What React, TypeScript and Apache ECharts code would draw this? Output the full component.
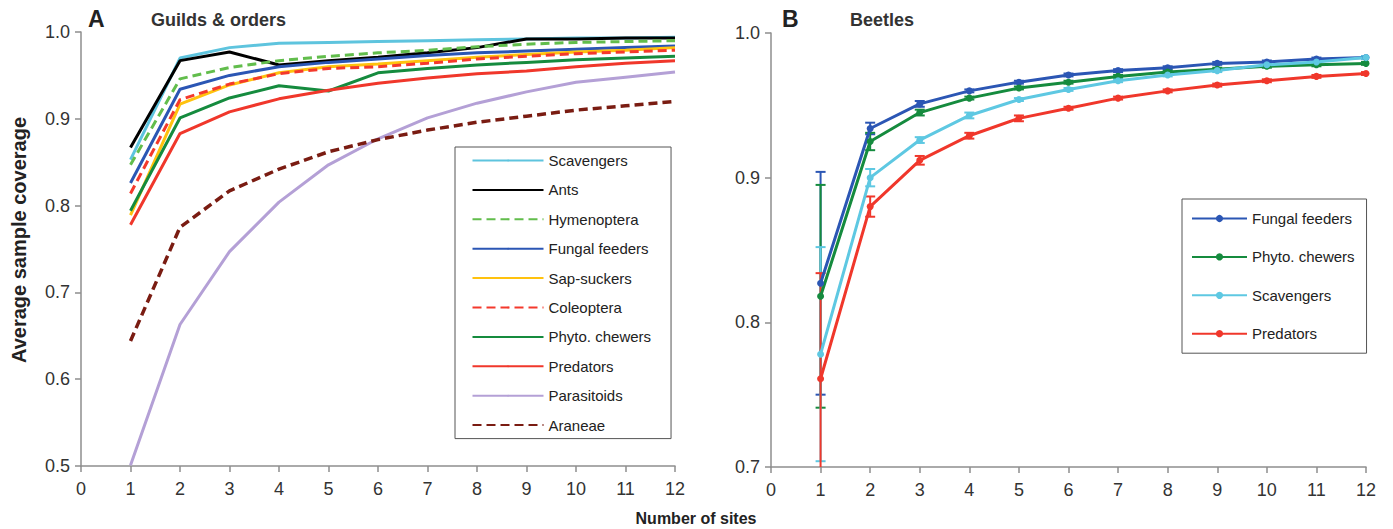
import React, { useEffect, useRef } from 'react';
import * as echarts from 'echarts';

const FONT = '"Liberation Sans", Arial, Helvetica, sans-serif';

// x values (number of sites)
const sites = [1, 2, 3, 4, 5, 6, 7, 8, 9, 10, 11, 12];

// Panel A: Guilds & orders
const scavengersA = [0.853, 0.970, 0.982, 0.987, 0.988, 0.989, 0.990, 0.991, 0.992, 0.993, 0.993, 0.994];
const antsA = [0.867, 0.967, 0.977, 0.962, 0.967, 0.971, 0.976, 0.982, 0.992, 0.992, 0.993, 0.993];
const hymenopteraA = [0.847, 0.946, 0.959, 0.967, 0.972, 0.976, 0.979, 0.983, 0.986, 0.988, 0.989, 0.990];
const fungalA = [0.826, 0.934, 0.950, 0.960, 0.965, 0.969, 0.973, 0.976, 0.978, 0.980, 0.982, 0.984];
const sapSuckersA = [0.789, 0.917, 0.939, 0.953, 0.960, 0.963, 0.967, 0.971, 0.974, 0.977, 0.979, 0.982];
const coleopteraA = [0.814, 0.922, 0.940, 0.952, 0.958, 0.960, 0.964, 0.969, 0.972, 0.975, 0.977, 0.979];
const phytoA = [0.794, 0.901, 0.924, 0.938, 0.932, 0.953, 0.958, 0.962, 0.965, 0.968, 0.970, 0.972];
const predatorsA = [0.778, 0.883, 0.908, 0.923, 0.933, 0.941, 0.947, 0.952, 0.955, 0.960, 0.964, 0.967];
const parasitoidsA = [0.501, 0.663, 0.747, 0.804, 0.847, 0.877, 0.901, 0.918, 0.931, 0.942, 0.948, 0.954];
const araneaeA = [0.644, 0.775, 0.817, 0.842, 0.862, 0.876, 0.887, 0.896, 0.903, 0.910, 0.915, 0.920];

// Panel B: Beetles (means and error half-widths)
const fungalB = [0.827, 0.934, 0.951, 0.960, 0.966, 0.971, 0.974, 0.976, 0.979, 0.980, 0.982, 0.983];
const phytoB = [0.818, 0.925, 0.945, 0.955, 0.962, 0.966, 0.970, 0.973, 0.975, 0.977, 0.978, 0.979];
const scavengersB = [0.778, 0.900, 0.926, 0.943, 0.954, 0.961, 0.967, 0.971, 0.974, 0.978, 0.980, 0.983];
const predatorsB = [0.761, 0.880, 0.912, 0.929, 0.941, 0.948, 0.955, 0.960, 0.964, 0.967, 0.970, 0.972];
const fungalErrB = [0.077, 0.004, 0.002, 0.001, 0.001, 0.001, 0.001, 0.001, 0.001, 0.001, 0.001, 0.001];
const phytoErrB = [0.077, 0.006, 0.002, 0.001, 0.001, 0.001, 0.001, 0.001, 0.001, 0.001, 0.001, 0.001];
const scavengersErrB = [0.074, 0.006, 0.002, 0.002, 0.001, 0.001, 0.001, 0.001, 0.001, 0.001, 0.001, 0.001];
const predatorsErrB = [0.073, 0.007, 0.003, 0.002, 0.002, 0.001, 0.001, 0.001, 0.001, 0.001, 0.001, 0.001];

const seriesA = [
  { name: 'Scavengers', data: scavengersA, color: '#5ec4de', type: 'solid', width: 3 },
  { name: 'Ants', data: antsA, color: '#000000', type: 'solid', width: 3 },
  { name: 'Hymenoptera', data: hymenopteraA, color: '#62bd4c', type: [9, 5], width: 3 },
  { name: 'Fungal feeders', data: fungalA, color: '#2b56b4', type: 'solid', width: 3 },
  { name: 'Sap-suckers', data: sapSuckersA, color: '#ffc20e', type: 'solid', width: 3 },
  { name: 'Coleoptera', data: coleopteraA, color: '#f4392c', type: [9, 5], width: 3 },
  { name: 'Phyto. chewers', data: phytoA, color: '#158b3e', type: 'solid', width: 3 },
  { name: 'Predators', data: predatorsA, color: '#f0372b', type: 'solid', width: 3 },
  { name: 'Parasitoids', data: parasitoidsA, color: '#b4a0d6', type: 'solid', width: 3 },
  { name: 'Araneae', data: araneaeA, color: '#7a1c12', type: [9, 5], width: 3.5 },
];

const seriesB = [
  { name: 'B Fungal feeders', data: fungalB, err: fungalErrB, color: '#2b56b4' },
  { name: 'B Phyto. chewers', data: phytoB, err: phytoErrB, color: '#158b3e' },
  { name: 'B Scavengers', data: scavengersB, err: scavengersErrB, color: '#5ec8e2' },
  { name: 'B Predators', data: predatorsB, err: predatorsErrB, color: '#f0372b' },
];

const axisColor = '#8e8e8e';

function makeX(gridIndex: number) {
  return {
    gridIndex,
    type: 'value',
    min: 0,
    max: 12,
    interval: 1,
    axisLine: { show: true, onZero: false, lineStyle: { color: axisColor, width: 1.5 } },
    axisTick: { show: true, length: 6, lineStyle: { color: axisColor, width: 1.5 } },
    axisLabel: { color: '#333', fontSize: 18, fontFamily: FONT, margin: 14 },
    splitLine: { show: false },
  };
}

function makeY(gridIndex: number, min: number) {
  return {
    gridIndex,
    type: 'value',
    min,
    max: 1.0,
    interval: 0.1,
    axisLine: { show: true, onZero: false, lineStyle: { color: axisColor, width: 1.5 } },
    axisTick: { show: true, length: 6, lineStyle: { color: axisColor, width: 1.5 } },
    axisLabel: {
      color: '#333',
      fontSize: 18,
      fontFamily: FONT,
      margin: 11,
      formatter: (v: number) => v.toFixed(1),
    },
    splitLine: { show: false },
  };
}

export default function App() {
  const ref = useRef<HTMLDivElement>(null);

  useEffect(() => {
    if (!ref.current) return;
    const chart = echarts.init(ref.current, undefined, { renderer: 'svg' });

    const lineSeriesA = seriesA.map((s) => ({
      name: s.name,
      type: 'line',
      xAxisIndex: 0,
      yAxisIndex: 0,
      data: sites.map((x, i) => [x, s.data[i]]),
      symbol: 'circle',
      symbolSize: 0,
      showSymbol: false,
      itemStyle: { color: s.color },
      lineStyle: { color: s.color, width: s.width, type: s.type as any },
      z: 3,
      silent: true,
    }));

    const errSeriesB = seriesB.map((s) => ({
      name: 'err ' + s.name,
      type: 'custom',
      xAxisIndex: 1,
      yAxisIndex: 1,
      clip: true,
      z: 2,
      silent: true,
      data: sites.map((x, i) => [x, s.data[i] - s.err[i], s.data[i] + s.err[i]]),
      encode: { x: 0, y: [1, 2] },
      renderItem: (params: any, api: any) => {
        const x = api.value(0);
        const lo = api.value(1);
        const hi = api.value(2);
        const top = api.coord([x, hi]);
        const bot = api.coord([x, lo]);
        const w = 5;
        const style = { stroke: s.color, lineWidth: 2 };
        return {
          type: 'group',
          children: [
            { type: 'line', shape: { x1: top[0], y1: top[1], x2: bot[0], y2: bot[1] }, style },
            { type: 'line', shape: { x1: top[0] - w, y1: top[1], x2: top[0] + w, y2: top[1] }, style },
            { type: 'line', shape: { x1: bot[0] - w, y1: bot[1], x2: bot[0] + w, y2: bot[1] }, style },
          ],
        };
      },
    }));

    const lineSeriesB = seriesB.map((s) => ({
      name: s.name,
      type: 'line',
      xAxisIndex: 1,
      yAxisIndex: 1,
      data: sites.map((x, i) => [x, s.data[i]]),
      symbol: 'circle',
      symbolSize: 7,
      showSymbol: true,
      itemStyle: { color: s.color },
      lineStyle: { color: s.color, width: 3 },
      z: 3,
      silent: true,
    }));

    chart.setOption({
      animation: false,
      backgroundColor: '#ffffff',
      grid: [
        { left: 81, top: 32, width: 594, height: 434 },
        { left: 771, top: 33, width: 595, height: 434 },
      ],
      xAxis: [makeX(0), makeX(1)],
      yAxis: [makeY(0, 0.5), makeY(1, 0.7)],
      legend: [
        {
          orient: 'vertical',
          left: 455,
          top: 147,
          itemWidth: 71,
          itemHeight: 2,
          itemGap: 14.4,
          padding: [6, 20, 6, 16.5],
          borderColor: '#555',
          borderWidth: 1,
          selectedMode: false,
          textStyle: { fontSize: 15, color: '#222', fontFamily: FONT },
          data: seriesA.map((s) => s.name),
        },
        {
          orient: 'vertical',
          left: 1182,
          top: 199,
          itemWidth: 55,
          itemHeight: 9,
          itemGap: 23.4,
          padding: [12, 12, 12, 9],
          borderColor: '#555',
          borderWidth: 1,
          selectedMode: false,
          textStyle: { fontSize: 15, color: '#222', fontFamily: FONT },
          formatter: (n: string) => n.replace(/^B /, ''),
          data: seriesB.map((s) => s.name),
        },
      ],
      graphic: [
        { type: 'text', x: 88, y: 19, style: { text: 'A', font: `bold 23px ${FONT}`, fill: '#222', textVerticalAlign: 'middle' } },
        { type: 'text', x: 151, y: 20, style: { text: 'Guilds & orders', font: `bold 18px ${FONT}`, fill: '#333', textVerticalAlign: 'middle' } },
        { type: 'text', x: 782, y: 19, style: { text: 'B', font: `bold 23px ${FONT}`, fill: '#222', textVerticalAlign: 'middle' } },
        { type: 'text', x: 850, y: 20, style: { text: 'Beetles', font: `bold 18px ${FONT}`, fill: '#333', textVerticalAlign: 'middle' } },
        {
          type: 'text',
          x: 19,
          y: 240,
          rotation: Math.PI / 2,
          style: { text: 'Average sample coverage', font: `bold 20px ${FONT}`, fill: '#222', textAlign: 'center', textVerticalAlign: 'middle' },
        },
        {
          type: 'text',
          x: 696,
          y: 518,
          style: { text: 'Number of sites', font: `bold 16px ${FONT}`, fill: '#222', textAlign: 'center', textVerticalAlign: 'middle' },
        },
      ],
      series: [...lineSeriesA, ...errSeriesB, ...lineSeriesB],
    });

    return () => chart.dispose();
  }, []);

  return (
    <div
      ref={ref}
      style={{ position: 'fixed', left: 0, top: 0, width: 1393, height: 529, background: '#fff' }}
    />
  );
}
